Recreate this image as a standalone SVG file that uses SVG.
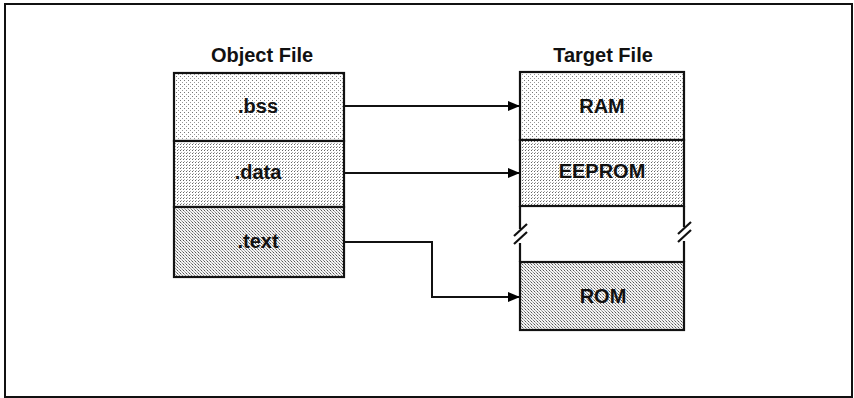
<svg xmlns="http://www.w3.org/2000/svg" width="854" height="398" viewBox="0 0 854 398">
<defs>
<pattern id="pLight" width="4" height="4" patternUnits="userSpaceOnUse">
<rect width="4" height="4" fill="#fff"/>
<rect x="0" y="0" width="1" height="1" fill="#777"/>
<rect x="2" y="2" width="1" height="1" fill="#999"/>
</pattern>
<pattern id="pMed" width="3" height="3" patternUnits="userSpaceOnUse">
<rect width="3" height="3" fill="#fff"/>
<rect x="0" y="0" width="1" height="1" fill="#666"/>
<rect x="1" y="2" width="1" height="1" fill="#aaa"/>
</pattern>
<pattern id="pDark" width="3" height="3" patternUnits="userSpaceOnUse">
<rect width="3" height="3" fill="#f4f4f4"/>
<rect x="0" y="0" width="1" height="1" fill="#555"/>
<rect x="1" y="1" width="1" height="1" fill="#aaa"/>
<rect x="2" y="2" width="1" height="1" fill="#888"/>
</pattern>
<marker id="arr" markerWidth="12" markerHeight="10" refX="12" refY="5" orient="auto" markerUnits="userSpaceOnUse">
<path d="M0,0 L12,5 L0,10 Z" fill="#000"/>
</marker>
</defs>
<style>
.box{stroke:#111;stroke-width:2.2}
.lbl{font-family:"Liberation Sans",Arial,sans-serif;font-weight:bold;font-size:20px;text-anchor:middle;fill:#111}
.ttl{font-family:"Liberation Sans",Arial,sans-serif;font-weight:bold;font-size:20px;text-anchor:middle;fill:#111}
.conn{fill:none;stroke:#111;stroke-width:2}
.edge{fill:none;stroke:#111;stroke-width:2.2}
</style>
<rect x="5" y="4" width="847" height="393" fill="#fff" stroke="#111" stroke-width="2"/>

<g id="object-file">
<text class="ttl" x="262" y="62">Object File</text>
<g id="bss"><rect class="box" x="174" y="73" width="170" height="68" fill="url(#pLight)"/><text class="lbl" x="258" y="113">.bss</text></g>
<g id="data"><rect class="box" x="174" y="141" width="170" height="66" fill="url(#pMed)"/><text class="lbl" x="258" y="179">.data</text></g>
<g id="text"><rect class="box" x="174" y="207" width="170" height="70" fill="url(#pDark)"/><text class="lbl" x="258" y="248">.text</text></g>
</g>

<g id="target-file">
<text class="ttl" x="603" y="62">Target File</text>
<g id="ram"><rect class="box" x="520" y="72" width="164" height="68" fill="url(#pLight)"/><text class="lbl" x="602" y="113">RAM</text></g>
<g id="eeprom"><rect class="box" x="520" y="140" width="164" height="66" fill="url(#pMed)"/><text class="lbl" x="602" y="178">EEPROM</text></g>
<g id="gap">
<path class="edge" d="M520,206 V229 M520,243 V262 M684,206 V227 M684,241 V262"/>
<path class="edge" d="M514,236 L527,224 M514,244 L527,232 M678,234 L691,222 M678,242 L691,230"/>
</g>
<g id="rom"><rect class="box" x="520" y="262" width="164" height="68" fill="url(#pDark)"/><text class="lbl" x="603" y="303">ROM</text></g>
</g>

<g id="connectors">
<path class="conn" d="M344,106 H520" marker-end="url(#arr)"/>
<path class="conn" d="M344,173 H520" marker-end="url(#arr)"/>
<path class="conn" d="M344,242 H432 V297 H520" marker-end="url(#arr)"/>
</g>
</svg>
